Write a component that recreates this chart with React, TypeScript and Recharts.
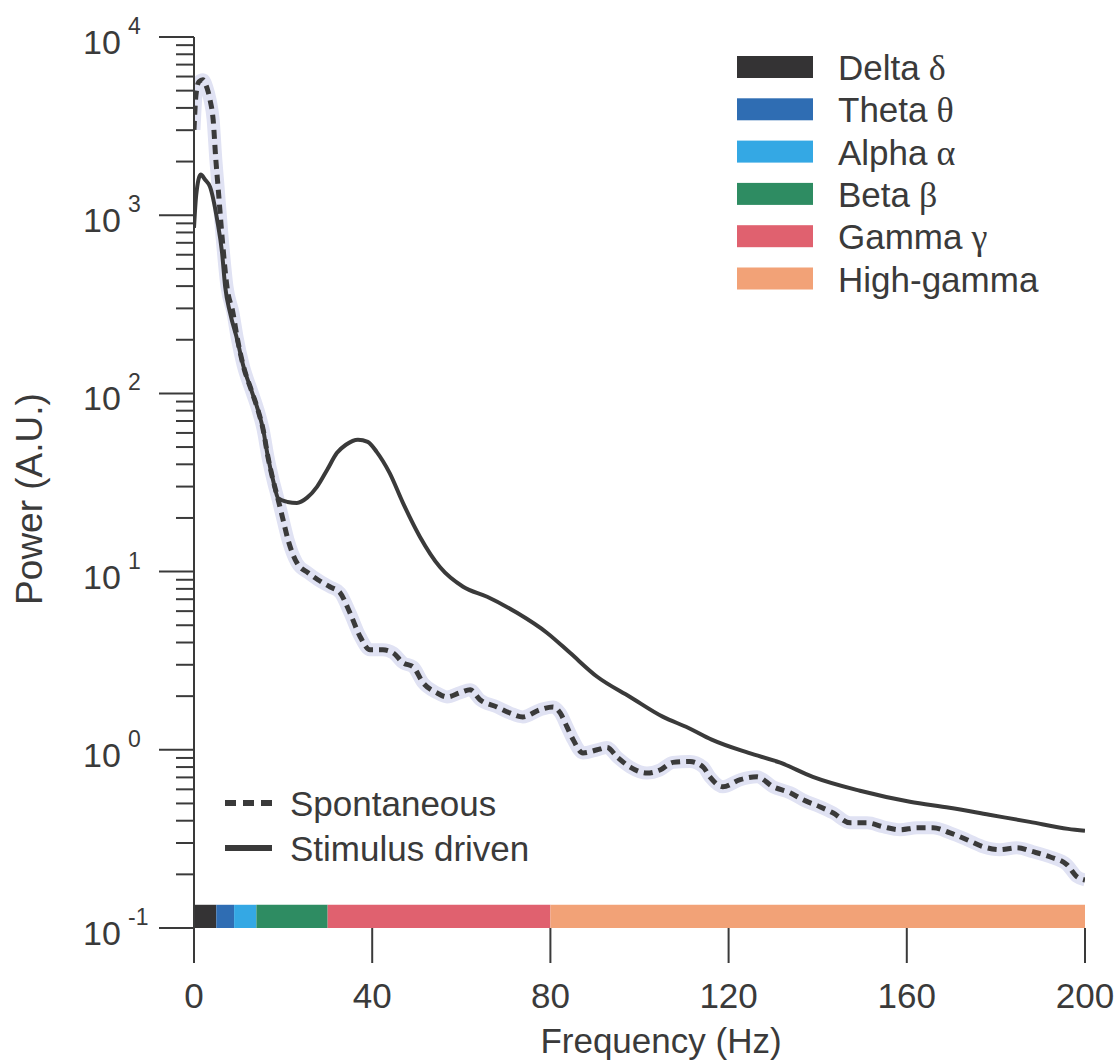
import React from 'react';
import { LineChart, Line, XAxis, YAxis, ReferenceArea, Legend } from 'recharts';

const FONT = '"Liberation Sans", Arial, Helvetica, sans-serif';
const GREEK_FONT = '"Liberation Serif", "Times New Roman", serif';
const INK = '#3a3a3a';
const GLOW = '#e0e2f3';

// Stimulus driven (solid)
const stimFreq = [0, 0.5, 1.5, 2.5, 3.6, 5.2, 6.3, 7.0, 8.1, 9.7, 11, 13, 14.4, 15.5, 16.6, 17.7, 18.9, 21, 23.1, 25.4, 27.6, 29.9, 32.1, 34.1, 36.8, 39, 41, 43.9, 46.9, 50.7, 55.2, 60.4, 65.8, 72.5, 79.2, 84.4, 90.5, 97.9, 105.3, 110.9, 116.2, 124.5, 131.6, 138.9, 149.5, 160.7, 169.6, 178.5, 187.6, 196.2, 200];
const stimPower = [850, 1300, 1690, 1580, 1443, 942, 615, 397, 283, 200, 145, 102, 80, 63, 44, 33, 25.8, 24.6, 24.3, 26, 29.9, 37.3, 46.4, 51.5, 55, 53.5, 47, 35.8, 24.3, 15.7, 10.6, 8.22, 7.22, 5.87, 4.54, 3.5, 2.57, 1.98, 1.53, 1.33, 1.14, 0.96, 0.846, 0.705, 0.589, 0.511, 0.473, 0.432, 0.394, 0.36, 0.351];

// Spontaneous (dashed)
const spontFreq = [0, 0.45, 1.1, 2.0, 2.9, 3.6, 4.3, 4.9, 5.4, 6.3, 7.4, 8.75, 9.7, 11, 13, 14.4, 15.5, 16.6, 17.7, 18.9, 20, 21.1, 23.1, 25.6, 27.8, 30.5, 32.8, 35, 37.3, 39.5, 42.4, 44.7, 46.9, 49.2, 51.4, 54.5, 56.8, 59.7, 62, 64.2, 68, 70.9, 73.8, 77.7, 80.6, 82.2, 83.7, 85.1, 87.3, 90.5, 92.7, 95, 97.9, 101.7, 104.6, 107.5, 111.3, 114.3, 115.8, 118.7, 122.6, 126.4, 130, 133.8, 136.7, 140.5, 143.4, 147.3, 151.1, 154.7, 158.5, 162.3, 165.9, 169.7, 173.5, 177.1, 180.9, 184.7, 188.3, 192.1, 196, 198.2, 200];
const spontPower = [3015, 4740, 5610, 5750, 5190, 4440, 3430, 2050, 1443, 757, 397, 283, 205, 145, 102, 80, 63, 44, 33, 25.3, 19.5, 15.1, 11.2, 9.85, 9.0, 8.22, 7.6, 5.87, 4.31, 3.64, 3.64, 3.5, 3.08, 2.92, 2.38, 2.09, 1.98, 2.09, 2.17, 1.91, 1.74, 1.61, 1.53, 1.68, 1.74, 1.61, 1.35, 1.14, 0.96, 1.0, 1.03, 0.91, 0.8, 0.74, 0.77, 0.85, 0.86, 0.8, 0.705, 0.62, 0.68, 0.705, 0.62, 0.574, 0.524, 0.479, 0.443, 0.389, 0.389, 0.37, 0.356, 0.365, 0.365, 0.342, 0.313, 0.286, 0.275, 0.282, 0.268, 0.251, 0.226, 0.194, 0.186];

// Frequency bands
const bandNames = ['Delta', 'Theta', 'Alpha', 'Beta', 'Gamma', 'High-gamma'];
const bandSymbols = ['δ', 'θ', 'α', 'β', 'γ', ''];
const bandStart = [0, 5, 9, 14, 30, 80];
const bandEnd = [5, 9, 14, 30, 80, 200];
const bandColors = ['#343334', '#2f6db3', '#34a8e4', '#2e8c62', '#e0616f', '#f2a277'];
const bandBottom = 0.1;
const bandTop = 0.135;

const seriesNames = ['Spontaneous', 'Stimulus driven'];

const xTicks = [0, 40, 80, 120, 160, 200];
const yTicks = [
  0.1, 0.2, 0.3, 0.4, 0.5, 0.6, 0.7, 0.8, 0.9,
  1, 2, 3, 4, 5, 6, 7, 8, 9,
  10, 20, 30, 40, 50, 60, 70, 80, 90,
  100, 200, 300, 400, 500, 600, 700, 800, 900,
  1000, 2000, 3000, 4000, 5000, 6000, 7000, 8000, 9000,
  10000,
];

const stimData = stimFreq.map((f, i) => ({ freq: f, power: stimPower[i] }));
const spontData = spontFreq.map((f, i) => ({ freq: f, power: spontPower[i] }));

const XTick = (props: any) => {
  const { x, y, payload } = props;
  return (
    <text x={x} y={y + 45} textAnchor="middle" fontSize={35} fill={INK} fontFamily={FONT}>
      {payload.value}
    </text>
  );
};

const YTick = (props: any) => {
  const { x, y, payload } = props;
  const v = payload.value;
  const lg = Math.log10(v);
  const e = Math.round(lg);
  const major = Math.abs(lg - e) < 1e-6;
  if (!major) {
    return <line x1={x - 18} x2={x} y1={y} y2={y} stroke={INK} strokeWidth={2} />;
  }
  return (
    <g>
      <line x1={x - 35} x2={x} y1={y} y2={y} stroke={INK} strokeWidth={2} />
      <text x={x - 111} y={y + 17} fontSize={34} fill={INK} fontFamily={FONT}>10</text>
      <text x={x - 66} y={y - 3} fontSize={23} fill={INK} fontFamily={FONT}>{e}</text>
    </g>
  );
};

const renderLegend = () => (
  <svg width={1118} height={1062} style={{ position: 'absolute', left: 0, top: 0 }}>
    {bandNames.map((name, i) => {
      const cy = 67 + i * 42.3;
      return (
        <g key={name}>
          <rect x={737} y={cy - 11} width={76} height={22} fill={bandColors[i]} />
          <text x={838} y={cy + 13} fontSize={35} fill={INK} fontFamily={FONT}>
            {name}
            {bandSymbols[i] ? (
              <tspan fontFamily={GREEK_FONT} fontSize={36}>{' ' + bandSymbols[i]}</tspan>
            ) : null}
          </text>
        </g>
      );
    })}
    <line x1={225} x2={272} y1={803} y2={803} stroke={INK} strokeWidth={6} strokeDasharray="11 7" />
    <text x={290} y={816} fontSize={35} fill={INK} fontFamily={FONT}>{seriesNames[0]}</text>
    <line x1={225} x2={272} y1={848} y2={848} stroke={INK} strokeWidth={6} />
    <text x={290} y={861} fontSize={35} fill={INK} fontFamily={FONT}>{seriesNames[1]}</text>
    <text x={661} y={1053} textAnchor="middle" fontSize={35} fill={INK} fontFamily={FONT}>Frequency (Hz)</text>
    <text x={42} y={499} transform="rotate(-90 42 499)" textAnchor="middle" fontSize={37} fill={INK} fontFamily={FONT}>Power (A.U.)</text>
  </svg>
);

export default function App() {
  return (
    <div style={{ position: 'fixed', left: 0, top: 0, width: 1118, height: 1062, overflow: 'hidden', background: '#fff' }}>
      <LineChart width={1118} height={1062} margin={{ top: 37, right: 33, bottom: 0, left: 0 }}>
        <XAxis
          type="number"
          dataKey="freq"
          domain={[0, 200]}
          ticks={xTicks}
          interval={0}
          height={134}
          axisLine={false}
          tickSize={35}
          tickMargin={0}
          tickLine={{ stroke: INK, strokeWidth: 2 }}
          tick={<XTick />}
          allowDataOverflow
        />
        <YAxis
          type="number"
          scale="log"
          domain={[0.1, 10000]}
          ticks={yTicks}
          interval={0}
          width={194}
          allowDataOverflow
          axisLine={{ stroke: INK, strokeWidth: 2 }}
          tickLine={false}
          tickSize={0}
          tickMargin={0}
          tick={<YTick />}
        />
        {bandNames.map((name, i) => (
          <ReferenceArea
            key={name}
            x1={bandStart[i]}
            x2={bandEnd[i]}
            y1={bandBottom}
            y2={bandTop}
            fill={bandColors[i]}
            fillOpacity={1}
            stroke="none"
            ifOverflow="visible"
          />
        ))}
        <Line data={spontData} dataKey="power" type="monotone" stroke={GLOW} strokeWidth={13} dot={false} activeDot={false} isAnimationActive={false} legendType="none" />
        <Line data={stimData} dataKey="power" name={seriesNames[1]} type="monotone" stroke={INK} strokeWidth={4} dot={false} activeDot={false} isAnimationActive={false} />
        <Line data={spontData} dataKey="power" name={seriesNames[0]} type="monotone" stroke={INK} strokeWidth={5} strokeDasharray="9 6" dot={false} activeDot={false} isAnimationActive={false} />
        <Legend
          content={renderLegend}
          layout="horizontal"
          verticalAlign="middle"
          align="center"
          wrapperStyle={{ position: 'absolute', left: 0, top: 0, width: 1118, height: 1062, pointerEvents: 'none' }}
        />
      </LineChart>
    </div>
  );
}
